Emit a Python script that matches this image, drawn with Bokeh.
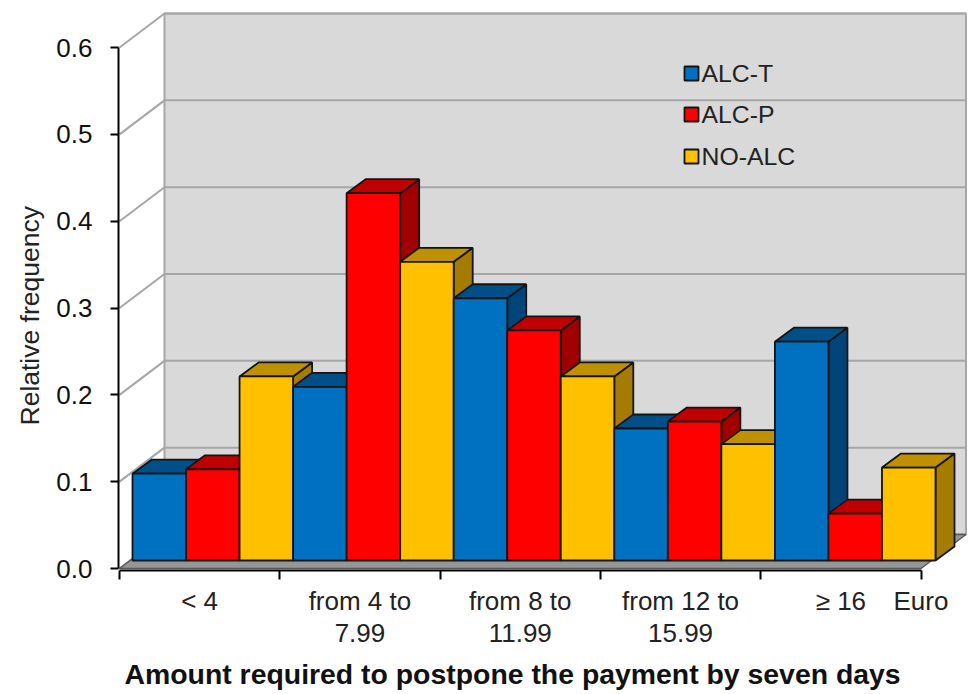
from bokeh.plotting import figure
from bokeh.models import Range1d, FixedTicker, NumeralTickFormatter, Title
from bokeh.core.properties import value
from bokeh.embed import file_html
from bokeh.resources import INLINE

categories = ["< 4", "from 4 to\n7.99", "from 8 to\n11.99", "from 12 to\n15.99", "\u2265 16"]
unit_label = "Euro"
series_names = ["ALC-T", "ALC-P", "NO-ALC"]
alc_t = [0.10, 0.20, 0.302, 0.152, 0.252]
alc_p = [0.105, 0.423, 0.265, 0.16, 0.054]
no_alc = [0.212, 0.344, 0.212, 0.134, 0.107]
y_ticks = [0.0, 0.1, 0.2, 0.3, 0.4, 0.5, 0.6]
y_title = "Relative frequency"
x_title = "Amount required to postpone the payment by seven days"

FRONT = ["#0070C0", "#FF0000", "#FFC000"]
TOP = ["#004F88", "#C00000", "#BF9000"]
SIDE = ["#004478", "#A00000", "#A67C00"]
EDGE = "#141414"
FONT = "Liberation Sans"

PX_X, PX_Y = 160.3, 868.3           # pixels per category / per unit of frequency
WALL_DX, WALL_DY = 45 / PX_X, 34 / PX_Y
GAP_DX, GAP_DY = 13 / PX_X, 8 / PX_Y
BAR_DX, BAR_DY = 19 / PX_X, 14 / PX_Y
BAR_W = 160.6 / 3 / PX_X

p = figure(width=969, height=694, output_backend="svg", toolbar_location=None,
           x_range=Range1d(-1 / PX_X, -1 / PX_X + 851 / PX_X),
           y_range=Range1d(-2 / PX_Y, 560 / PX_Y),
           min_border_left=118, min_border_right=0, min_border_top=8, min_border_bottom=124,
           background_fill_color="white", border_fill_color="white", outline_line_color=None)
p.frame_width = 851
p.frame_height = 562
p.grid.visible = False

n = len(categories)
top_v = 0.6

# back wall, floor, side wall
p.patch([WALL_DX, n + WALL_DX, n + WALL_DX, WALL_DX], [WALL_DY, WALL_DY, top_v + WALL_DY, top_v + WALL_DY],
        fill_color="#D9D9D9", line_color="#A6A6A6", line_width=2)
for t in y_ticks:
    p.line([0, WALL_DX, n + WALL_DX], [t, t + WALL_DY, t + WALL_DY], line_color="#A6A6A6", line_width=2)
p.patch([0, n, n + WALL_DX, WALL_DX], [0, 0, WALL_DY, WALL_DY], fill_color="#969696", line_color="#5a5a5a", line_width=1.5)

# bars, painted left to right
xs, ys, fills = [], [], []
groups = [alc_t, alc_p, no_alc]
for c in range(n):
    for s, vals in enumerate(groups):
        v = vals[c]
        x0 = (c + s / 3) * 3 * BAR_W + GAP_DX
        x1 = x0 + BAR_W
        y0 = GAP_DY
        y1 = y0 + v
        xs.append([x1, x1 + BAR_DX, x1 + BAR_DX, x1]); ys.append([y0, y0 + BAR_DY, y1 + BAR_DY, y1]); fills.append(SIDE[s])
        xs.append([x0, x1, x1 + BAR_DX, x0 + BAR_DX]); ys.append([y1, y1, y1 + BAR_DY, y1 + BAR_DY]); fills.append(TOP[s])
        xs.append([x0, x1, x1, x0]); ys.append([y0, y0, y1, y1]); fills.append(FRONT[s])
p.patches(xs, ys, fill_color=fills, line_color=EDGE, line_width=1.8)

# legend
leg_x0 = (684 - 119) / PX_X
leg_x1 = (698 - 119) / PX_X
leg_y = [(568 - 73) / PX_Y, (568 - 114) / PX_Y, (568 - 156) / PX_Y]
half = 7 / PX_Y
p.quad(left=leg_x0, right=leg_x1, bottom=[y - half for y in leg_y], top=[y + half for y in leg_y],
       fill_color=FRONT, line_color=EDGE, line_width=1.8)
p.text(x=[(701 - 119) / PX_X] * 3, y=leg_y, text=series_names, text_font=value(FONT),
       text_font_size="24.8px", text_color="#222222", text_baseline="middle", text_align="left")

# axes
ya = p.yaxis[0]
ya.bounds = (0, 0.6)
ya.ticker = FixedTicker(ticks=y_ticks)
ya.formatter = NumeralTickFormatter(format="0.0")
ya.axis_line_color = "black"; ya.axis_line_width = 2
ya.major_tick_line_color = "black"; ya.major_tick_line_width = 2
ya.major_tick_out = 8; ya.major_tick_in = 0
ya.minor_tick_line_color = None
ya.major_label_text_font = FONT; ya.major_label_text_font_size = "26px"; ya.major_label_text_color = "#111111"
ya.major_label_standoff = 18

xa = p.xaxis[0]
xa.bounds = (0, n)
centers = [i + 0.5 for i in range(n)]
xa.ticker = FixedTicker(ticks=centers + [n], minor_ticks=list(range(n + 1)))
xa.major_label_overrides = {**{c: l for c, l in zip(centers, categories)}, n: unit_label}
xa.axis_line_color = "black"; xa.axis_line_width = 2
xa.major_tick_line_color = None; xa.major_tick_out = 0; xa.major_tick_in = 0
xa.minor_tick_line_color = "black"; xa.minor_tick_line_width = 2; xa.minor_tick_out = 9; xa.minor_tick_in = 0
xa.major_label_text_font = FONT; xa.major_label_text_font_size = "26px"; xa.major_label_text_color = "#222222"
xa.major_label_text_line_height = 1.07
xa.major_label_standoff = 6

p.add_layout(Title(text=y_title, align="left", offset=145, standoff=18,
                   text_font=FONT, text_font_style="normal", text_font_size="26.5px", text_color="#222222"), "left")
p.add_layout(Title(text=x_title, align="left", offset=6, standoff=11,
                   text_font=FONT, text_font_style="bold", text_font_size="28.4px", text_color="#111111"), "below")

open("out.html", "w").write(file_html(p, INLINE))
